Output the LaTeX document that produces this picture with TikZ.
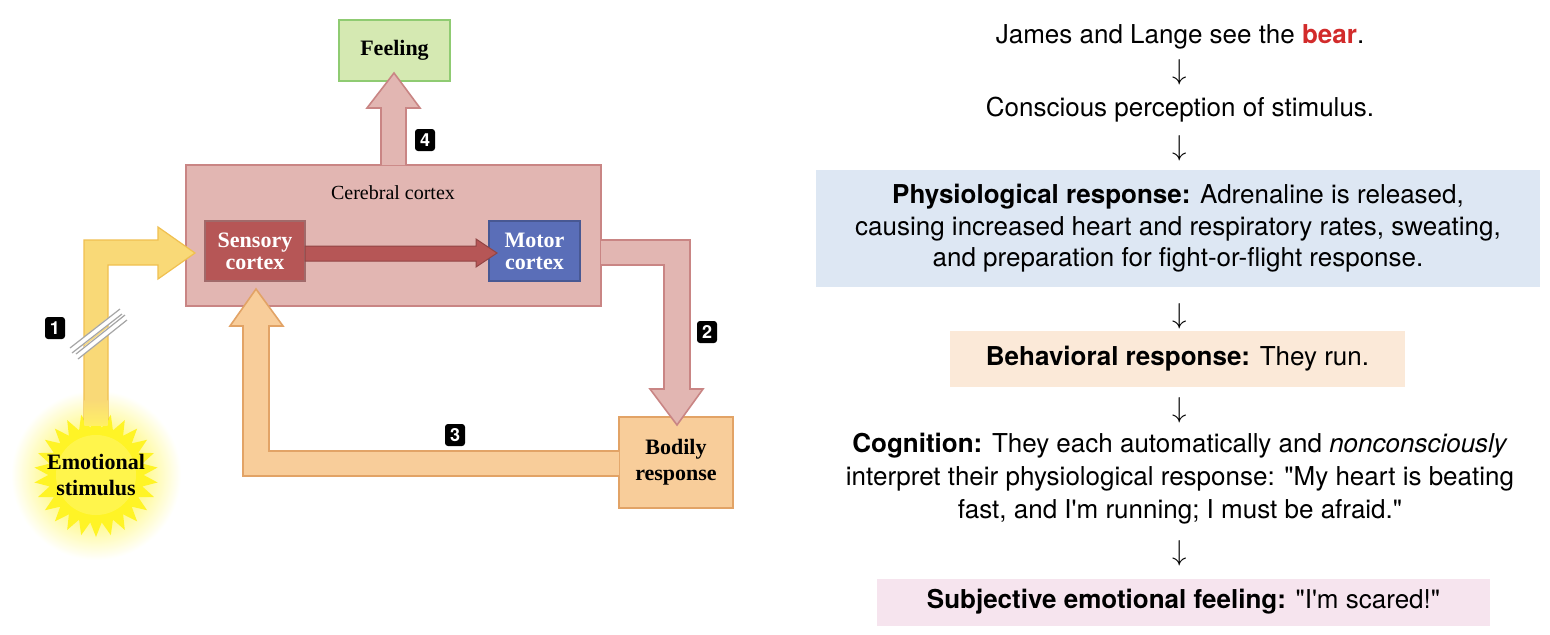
\documentclass[tikz,border=0pt]{standalone}
\usepackage{fontspec}
\setmainfont{Liberation Serif}
\newfontfamily\sans{TeX Gyre Heros}
\usetikzlibrary{shapes.geometric}
\definecolor{cortex}{HTML}{E2B6B2}
\definecolor{cortexb}{HTML}{C98584}
\definecolor{sens}{HTML}{B65656}
\definecolor{mot}{HTML}{5A6EB8}
\definecolor{feel}{HTML}{D5E9B2}
\definecolor{feelb}{HTML}{8FCB72}
\definecolor{body}{HTML}{F8CD9A}
\definecolor{bodyb}{HTML}{E2A366}
\definecolor{yel}{HTML}{F9D977}
\definecolor{yelb}{HTML}{F0C050}
\definecolor{bluebox}{HTML}{DDE7F3}
\definecolor{peach}{HTML}{FBE9D8}
\definecolor{pinkbox}{HTML}{F6E4EE}
\definecolor{bearred}{HTML}{D22B2B}
\tikzset{
 badge/.style={fill=black,text=white,font=\sans\bfseries\fontsize{9}{9}\selectfont,rounded corners=1.5pt,inner sep=1.5pt,minimum width=10pt,minimum height=11pt},
 rt/.style={font=\sans\fontsize{13}{16}\selectfont,align=center},
 dn/.style={font=\sans\fontsize{14}{14}\selectfont},
 lbl/.style={font=\bfseries\fontsize{11}{13}\selectfont,align=center}
}
\begin{document}
\begin{tikzpicture}[x=0.5pt,y=-0.5pt]
\useasboundingbox (0,0) rectangle (1550,634);
\fill[white] (0,0) rectangle (1550,634);
% left boxes
\node[draw=feelb,fill=feel,minimum width=55.5pt,minimum height=30.5pt,lbl,line width=0.8pt] (feel) at (394.5,50.5) {Feeling};
\draw[fill=cortex,draw=cortexb,line width=0.8pt] (186,165) rectangle (601,306);
\node[font=\fontsize{10}{11}\selectfont] (cc) at (393,193) {Cerebral cortex};
\node[draw=cortexb!80!black,fill=sens,text=white,minimum width=50pt,minimum height=30pt,lbl,line width=0.6pt] (sens) at (255,251) {Sensory\\[-2pt]cortex};
\node[draw=mot!80!black,fill=mot,text=white,minimum width=45.5pt,minimum height=30pt,lbl,line width=0.6pt] (mot) at (534.5,251) {Motor\\[-2pt]cortex};
\node[draw=bodyb,fill=body,minimum width=57pt,minimum height=45.5pt,lbl,line width=0.8pt] (body) at (676,462.5) {Bodily\\response};
% fat arrows
\draw[fill=sens,draw=sens!80!black,line width=0.5pt] (305,246)--(476,246)--(476,239)--(497,253)--(476,267)--(476,261)--(305,261)--cycle;
\draw[fill=cortex,draw=cortexb,line width=0.8pt] (381,165)--(381,108)--(367,108)--(394,73)--(420,108)--(406,108)--(406,165);
\draw[fill=cortex,draw=cortexb,line width=0.8pt] (601,240)--(690,240)--(690,389)--(703,389)--(677,425)--(650,389)--(664,389)--(664,265)--(601,265);
\draw[fill=body,draw=bodyb,line width=0.8pt] (619,451)--(269,451)--(269,326)--(283,326)--(256,289)--(230,326)--(243,326)--(243,476)--(619,476);
% sun glow
\shade[inner color=yellow!90!orange,outer color=white] (96,475) circle (85);
\node[star,star points=26,star point ratio=1.3,fill=yellow!85!white,minimum size=62pt,inner sep=0] (sunstar) at (96,475) {};
\fill[yellow!60!white,opacity=0.6] (96,475) circle (40);
\draw[fill=yel,draw=yelb,line width=0.6pt] (84,420)--(84,240)--(158,240)--(158,227)--(195,253)--(158,279)--(158,265)--(108,265)--(108,420);
\shade[top color=yel,bottom color=yellow!80!orange!60] (84.4,400) rectangle (107.6,425);
\node[lbl] (stim) at (96,475) {Emotional\\stimulus};
% slash marks
\draw[white,line width=3pt] (71,351)--(120,312) (77,356)--(126,317);
\draw[gray!70,line width=0.6pt] (70,348)--(120,309) (72,353)--(122,314) (76,354)--(125,315) (78,359)--(127,320);
% badges
\node[badge] (b1) at (55,328) {1};
\node[badge] (b2) at (707,332) {2};
\node[badge] (b3) at (455,435) {3};
\node[badge] (b4) at (425,140) {4};
% right side
\node[rt] (t1) at (1180,37) {James and Lange see the \textcolor{bearred}{\bfseries bear}.};
\node[dn] (a1) at (1180,72) {$\downarrow$};
\node[rt] (t2) at (1180,110) {Conscious perception of stimulus.};
\node[dn] (a2) at (1180,148) {$\downarrow$};
\node[fill=bluebox,minimum width=362pt,minimum height=58.5pt] (phys) at (1178,228.5) {};
\node[rt,font=\sans\fontsize{13}{15.8}\selectfont] at (phys) {{\bfseries Physiological response:} Adrenaline is released,\\causing increased heart and respiratory rates, sweating,\\and preparation for fight-or-flight response.};
\node[dn] (a3) at (1180,316) {$\downarrow$};
\node[fill=peach,minimum width=227.5pt,minimum height=28pt,rt] (beh) at (1177.5,359) {{\bfseries Behavioral response:} They run.};
\node[dn] (a4) at (1180,410) {$\downarrow$};
\node[rt,font=\sans\fontsize{13}{16.5}\selectfont] (cog) at (1180,479) {{\bfseries Cognition:} They each automatically and \emph{nonconsciously}\\interpret their physiological response: "My heart is beating\\fast, and I'm running; I must be afraid."};
\node[dn] (a5) at (1180,553) {$\downarrow$};
\node[fill=pinkbox,minimum width=306.5pt,minimum height=23.5pt,rt] (subj) at (1183.5,602) {{\bfseries Subjective emotional feeling:} "I'm scared!"};
\end{tikzpicture}
\end{document}
